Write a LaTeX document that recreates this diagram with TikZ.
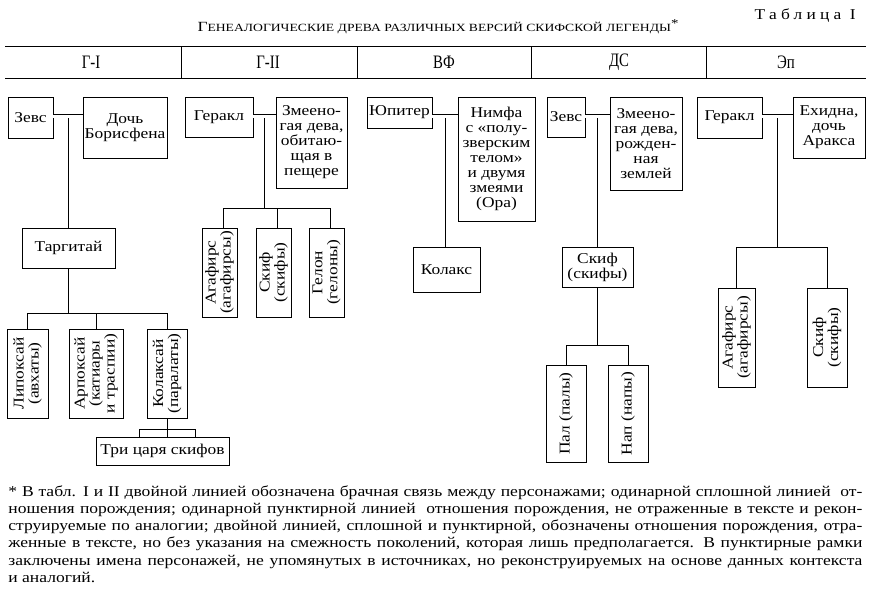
\documentclass[tikz,border=0pt]{standalone}
\usepackage{fontspec}
\setmainfont{Liberation Serif}
\newfontfamily\boxfont[FakeStretch=1.16]{Liberation Serif}
\newfontfamily\hdfont[FakeStretch=0.78]{Liberation Serif}
\newfontfamily\fnfont[FakeStretch=1.17]{Liberation Serif}
\newfontfamily\titfont[FakeStretch=1.24]{Liberation Serif}
\usetikzlibrary{calc}
\newcommand\bxf{\boxfont\fontsize{15}{15}\selectfont}
\newcommand\fnf{\fnfont\fontsize{15}{17.3}\selectfont}
\newcommand\fnline[1]{\makebox[854pt][s]{#1}\\}
\begin{document}
\begin{tikzpicture}[x=1pt,y=-1pt,
  bx/.style={draw, line width=0.8pt, inner sep=0pt, align=center, font=\bxf},
  rt/.style={rotate=90, align=center, inner sep=0pt, font=\bxf},
  dbl/.style={double, double distance=3pt, line width=0.8pt},
  hd/.style={font=\hdfont\fontsize{19}{20}\selectfont, inner sep=0pt}]
\useasboundingbox (0,0) rectangle (869,592);
\tikzset{every path/.append style={line width=0.8pt}}
% title
\node[inner sep=0pt, anchor=base] (title) at (438,31) {\titfont{\fontsize{14}{14}\selectfont Г}{\fontsize{11}{12}\selectfont ЕНЕАЛОГИЧЕСКИЕ ДРЕВА РАЗЛИЧНЫХ ВЕРСИЙ СКИФСКОЙ ЛЕГЕНДЫ}\raisebox{4pt}{\fontsize{12}{12}\selectfont *}};
\node[inner sep=0pt, anchor=base east] (tabl) at (856,19) {\boxfont\fontsize{15}{15}\selectfont\addfontfeature{LetterSpace=28}Таблица I};
% header
\draw[line width=1pt] (5,46) -- (866,46);
\draw[line width=1pt] (5,78) -- (866,78);
\foreach \x in {181,357,531,706} \draw (\x,46) -- (\x,78);
\node[hd] (h1) at (91,62) {Г-I};
\node[hd] (h2) at (268,62) {Г-II};
\node[hd] (h3) at (444,62) {ВФ};
\node[hd] (h4) at (619,62) {ДС};
\node[hd] (h5) at (786,62) {Эп};
\coordinate (dy) at (0,116);
% ---- Г-I
\node[bx, minimum width=45pt, minimum height=41pt] (zevsA) at (30.5,117.5) {Зевс};
\node[bx, minimum width=84pt, minimum height=61pt] (doch) at (125,127.5) {Дочь\\Борисфена};
\node[bx, minimum width=93pt, minimum height=40pt] (targ) at (68.5,248) {Таргитай};
\node[bx, minimum width=41pt, minimum height=89pt] (lip) at (27.5,373.5) {};
\node[rt] (lipT) at (lip.center) {Липоксай\\(авхаты)};
\node[bx, minimum width=54pt, minimum height=89pt] (arp) at (96,373.5) {};
\node[rt] (arpT) at (arp.center) {Арпоксай\\(катиары\\и траспии)};
\node[bx, minimum width=40pt, minimum height=89pt] (kol) at (167,373.5) {};
\node[rt] (kolT) at (kol.center) {Колаксай\\(паралаты)};
\node[bx, minimum width=133pt, minimum height=28pt] (tri) at (162.5,451) {Три царя скифов};
\draw[dbl] (zevsA.east |- dy) -- (doch.west |- dy);
\coordinate (mA) at ($(zevsA.east |- dy)!0.5!(doch.west |- dy)$);
\draw ([yshift=-2pt]mA) -- (mA |- targ.north);
\coordinate (barA) at (0,313);
\draw (targ.south) -- (targ.south |- barA);
\draw (lip.north) |- (kol.north |- barA) -- (kol.north);
\draw (arp.north) -- (arp.north |- barA);
\draw (kol.south) -- (kol.south |- tri.north);
\coordinate (brL) at (139,429);
\coordinate (brR) at (195,429);
\draw (brL |- tri.north) -- (brL) -- (brR) -- (brR |- tri.north);
% ---- Г-II
\node[bx, minimum width=68pt, minimum height=40pt] (gerB) at (219,117) {Геракл};
\node[bx, minimum width=71pt, minimum height=91pt] (zmeiB) at (311.5,142.5) {Змеено-\\гая дева,\\обитаю-\\щая в\\пещере};
\node[bx, minimum width=35pt, minimum height=89pt] (agafB) at (219.5,272.5) {};
\node[rt] (agafBT) at (agafB.center) {Агафирс\\(агафирсы)};
\node[bx, minimum width=35pt, minimum height=89pt] (skifB) at (273.5,272.5) {};
\node[rt] (skifBT) at (skifB.center) {Скиф\\(скифы)};
\node[bx, minimum width=35pt, minimum height=89pt] (gelB) at (326.5,272.5) {};
\node[rt] (gelBT) at (gelB.center) {Гелон\\(гелоны)};
\draw[dbl] (gerB.east |- dy) -- (zmeiB.west |- dy);
\coordinate (mB) at ($(gerB.east |- dy)!0.5!(zmeiB.west |- dy)$);
\coordinate (barB) at (0,208);
\draw ([yshift=-2pt]mB) -- (mB |- barB);
\draw ([xshift=3.5pt]agafB.north) |- ([xshift=3.5pt]gelB.north |- barB) -- ([xshift=3.5pt]gelB.north);
\draw ([xshift=3.5pt]skifB.north) -- ([xshift=3.5pt]skifB.north |- barB);
% ---- ВФ
\node[bx, minimum width=65pt, minimum height=31pt] (jup) at (399.5,112.5) {Юпитер};
\node[bx, minimum width=77pt, minimum height=124pt] (nimf) at (496.5,159) {Нимфа\\с «полу-\\зверским\\телом»\\и двумя\\змеями\\(Ора)};
\node[bx, minimum width=67pt, minimum height=45pt] (kolaks) at (446.5,269.5) {Колакс};
\draw[dbl] (jup.east |- dy) -- (nimf.west |- dy);
\coordinate (mC) at ($(jup.east |- dy)!0.5!(nimf.west |- dy)$);
\draw ([yshift=-2pt]mC) -- (mC |- kolaks.north);
% ---- ДС
\node[bx, minimum width=38pt, minimum height=40pt] (zevsD) at (566,117) {Зевс};
\node[bx, minimum width=72pt, minimum height=93pt] (zmeiD) at (646,143.5) {Змеено-\\гая дева,\\рожден-\\ная\\землей};
\node[bx, minimum width=71pt, minimum height=40pt] (skifD) at (597.5,267) {Скиф\\(скифы)};
\node[bx, minimum width=40pt, minimum height=97pt] (pal) at (566,413.5) {};
\node[rt] (palT) at (pal.center) {Пал (палы)};
\node[bx, minimum width=40pt, minimum height=97pt] (nap) at (628,413.5) {};
\node[rt] (napT) at (nap.center) {Нап (напы)};
\draw[dbl] (zevsD.east |- dy) -- (zmeiD.west |- dy);
\coordinate (mD) at ($(zevsD.east |- dy)!0.5!(zmeiD.west |- dy)$);
\draw ([yshift=-2pt]mD) -- (mD |- skifD.north);
\coordinate (barD) at (0,345);
\draw (skifD.south) -- (skifD.south |- barD);
\draw (pal.north) |- (nap.north |- barD) -- (nap.north);
% ---- Эп
\node[bx, minimum width=65pt, minimum height=41pt] (gerE) at (729.5,117.5) {Геракл};
\node[bx, minimum width=72pt, minimum height=61pt] (ehid) at (829,127.5) {Ехидна,\\дочь\\Аракса};
\node[bx, minimum width=37pt, minimum height=99pt] (agafE) at (736.5,337.5) {};
\node[rt] (agafET) at (agafE.center) {Агафирс\\(агафирсы)};
\node[bx, minimum width=40pt, minimum height=99pt] (skifE) at (827,337.5) {};
\node[rt] (skifET) at (skifE.center) {Скиф\\(скифы)};
\draw[dbl] (gerE.east |- dy) -- (ehid.west |- dy);
\coordinate (mE) at ($(gerE.east |- dy)!0.5!(ehid.west |- dy)$);
\coordinate (barE) at (0,247);
\draw ([yshift=-2pt]mE) -- (mE |- barE);
\draw (agafE.north) |- (skifE.north |- barE) -- (skifE.north);
% footnote
\node[anchor=base west, inner sep=0pt] (fn) at (8,496) {\parbox[t]{854pt}{\fnf
\fnline{* В табл. I и II двойной линией обозначена брачная связь между персонажами; одинарной сплошной линией \ от-}
\fnline{ношения порождения; одинарной пунктирной линией \ отношения порождения, не отраженные в тексте и рекон-}
\fnline{струируемые по аналогии; двойной линией, сплошной и пунктирной, обозначены отношения порождения, отра-}
\fnline{женные в тексте, но без указания на смежность поколений, которая лишь предполагается. В пунктирные рамки}
\fnline{заключены имена персонажей, не упомянутых в источниках, но реконструируемых на основе данных контекста}
и аналогий.}};
\end{tikzpicture}
\end{document}
